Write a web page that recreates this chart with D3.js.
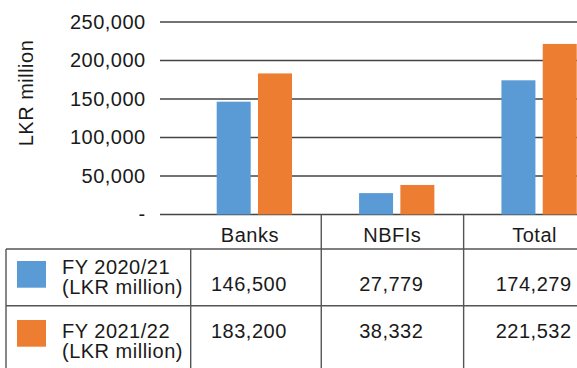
<!DOCTYPE html>
<html>
<head>
<meta charset="utf-8">
<script src="https://cdn.jsdelivr.net/npm/d3@7"></script>
<style>
  html, body { margin: 0; padding: 0; background: #fff; }
  svg { display: block; }
  text { font-family: "Liberation Sans", Arial, Helvetica, sans-serif; fill: #1a1a1a; }
</style>
</head>
<body>
<svg id="chart" width="577" height="368"></svg>
<script>
// Funding by sector, LKR million
const categories = ["Banks", "NBFIs", "Total"];
const seriesNames = ["FY 2020/21", "FY 2021/22"];
const seriesUnit = "(LKR million)";
const fy2021 = [146500, 27779, 174279];
const fy2122 = [183200, 38332, 221532];
const yTicks = [0, 50000, 100000, 150000, 200000, 250000];
const colors = ["#5B9BD5", "#ED7D31"];

const series = [fy2021, fy2122];

const W = 577, H = 368;
const svg = d3.select("#chart");
const FS = 20;

const y = d3.scaleLinear().domain([0, 250000]).range([214.5, 22]);
const x = d3.scaleBand().domain(categories).range([178.9, 606]).padding(0);
const xs = d3.scaleBand().domain(d3.range(series.length)).range([37.8, 113.1]).paddingInner(0.177);

const fmt = d3.format(",");

// gridlines
svg.append("g").selectAll("line").data(yTicks).join("line")
  .attr("x1", 160).attr("x2", W)
  .attr("y1", d => y(d)).attr("y2", d => y(d))
  .attr("stroke", "#444").attr("stroke-width", 1.4);

// y tick labels
svg.append("g").selectAll("text").data(yTicks).join("text")
  .attr("x", 145.7).attr("y", d => y(d) + 6.5)
  .attr("text-anchor", "end")
  .attr("font-size", FS).attr("letter-spacing", 0.5)
  .text(d => d === 0 ? "-" : fmt(d));

// y title
svg.append("text")
  .attr("transform", "translate(33,93) rotate(-90)")
  .attr("text-anchor", "middle")
  .attr("font-size", FS).attr("letter-spacing", 0.5)
  .text("LKR million");

// bars
const groups = svg.append("g").selectAll("g").data(categories).join("g")
  .attr("transform", d => `translate(${x(d)},0)`);
groups.selectAll("rect").data((c, i) => series.map((s, k) => ({ k, v: s[i] }))).join("rect")
  .attr("x", d => xs(d.k)).attr("width", xs.bandwidth())
  .attr("y", d => y(d.v)).attr("height", d => y(0) - y(d.v))
  .attr("fill", d => colors[d.k]);

// table grid
const tableTop = 249, rowSep = 305.7, labelDiv = 190.7;
const grid = svg.append("g").attr("stroke", "#555").attr("stroke-width", 1.4);
grid.append("line").attr("x1", 6).attr("x2", W).attr("y1", tableTop).attr("y2", tableTop);
grid.append("line").attr("x1", 6).attr("x2", W).attr("y1", rowSep).attr("y2", rowSep);
grid.append("line").attr("x1", 6).attr("x2", 6).attr("y1", tableTop).attr("y2", H);
grid.append("line").attr("x1", labelDiv).attr("x2", labelDiv).attr("y1", tableTop).attr("y2", H);
grid.selectAll("line.col").data(categories.slice(1)).join("line").attr("class", "col")
  .attr("x1", d => x(d)).attr("x2", d => x(d))
  .attr("y1", y(0)).attr("y2", H);

// column headers
svg.append("g").selectAll("text").data(categories).join("text")
  .attr("x", d => x(d) + 71).attr("y", 241.7)
  .attr("text-anchor", "middle")
  .attr("font-size", FS).attr("letter-spacing", 0.5)
  .text(d => d);

// table rows
const rowTop = [tableTop, rowSep];
series.forEach((s, k) => {
  const r = rowTop[k];
  svg.append("rect")
    .attr("x", 17).attr("y", r + (k === 0 ? 12 : 14.3))
    .attr("width", 29).attr("height", 26.7)
    .attr("fill", colors[k]);
  const lab = svg.append("text")
    .attr("font-size", FS).attr("letter-spacing", 0.5);
  lab.append("tspan").attr("x", 62).attr("y", r + (k === 0 ? 25 : 32)).text(seriesNames[k]);
  lab.append("tspan").attr("x", 62).attr("y", r + (k === 0 ? 45 : 52)).text(seriesUnit);
  svg.append("g").selectAll("text").data(categories).join("text")
    .attr("x", d => x(d) + 70).attr("y", r + (k === 0 ? 42 : 32.6))
    .attr("text-anchor", "middle")
    .attr("font-size", FS).attr("letter-spacing", 0.5)
    .text((d, i) => fmt(s[i]));
});
</script>
</body>
</html>
